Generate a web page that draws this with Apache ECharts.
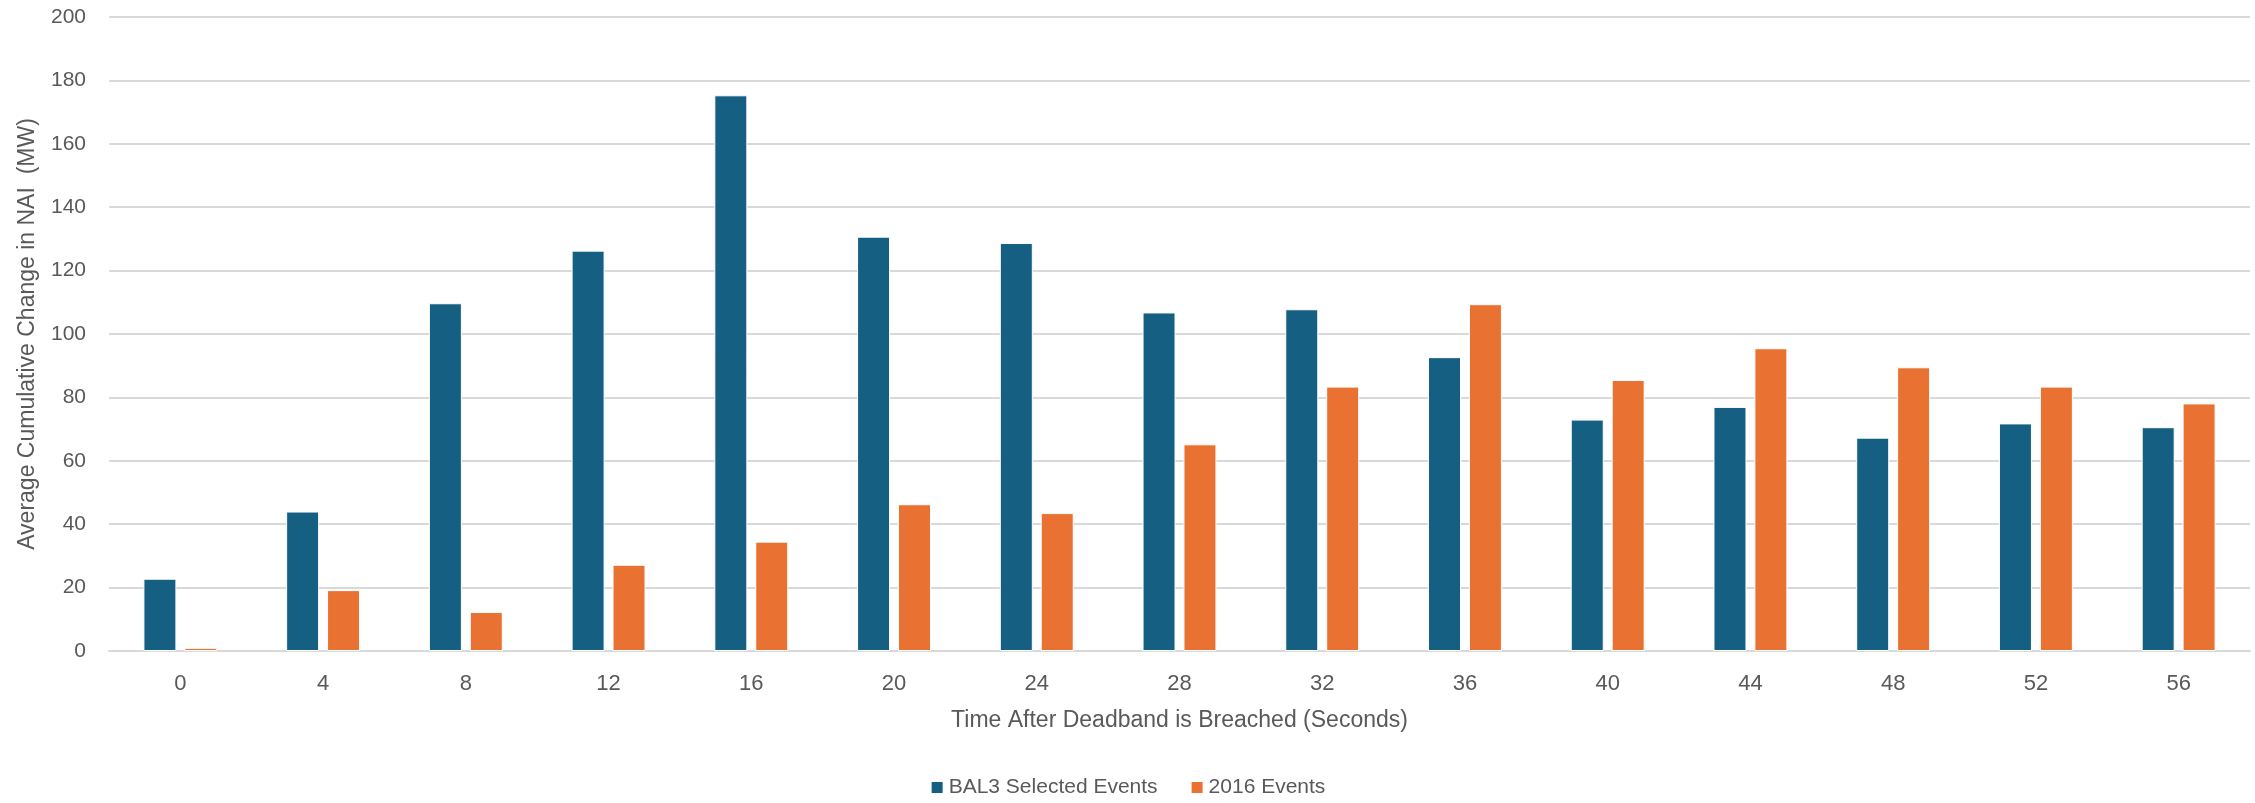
<!DOCTYPE html>
<html>
<head>
<meta charset="utf-8">
<script src="https://cdn.jsdelivr.net/npm/echarts@6/dist/echarts.min.js"></script>
<style>
html,body{margin:0;padding:0;background:#fff;}
#c{width:2255px;height:803px;}
</style>
</head>
<body>
<div id="c"></div>
<script>
const categories = ['0','4','8','12','16','20','24','28','32','36','40','44','48','52','56'];
const bal3Events = [22.8, 44, 109.7, 126.3, 175.3, 130.7, 128.7, 106.8, 107.8, 92.7, 73.0, 77.0, 67.3, 71.8, 70.6];
const events2016 = [1.0, 19.2, 12.3, 27.2, 34.5, 46.3, 43.5, 65.2, 83.4, 109.4, 85.5, 95.5, 89.5, 83.4, 78.1];
const yTicks = {min: 0, max: 200, interval: 20};

const chart = echarts.init(document.getElementById('c'), null, {renderer: 'canvas'});
const sans = '"Liberation Sans", Arial, sans-serif';
chart.setOption({
  animation: false,
  backgroundColor: '#ffffff',
  grid: {left: 109, right: 5, top: 17, bottom: 152, containLabel: false},
  legend: {
    data: ['BAL3 Selected Events', '2016 Events'],
    bottom: 0,
    left: 'center',
    itemWidth: 13, itemHeight: 13, itemGap: 32,
    icon: 'rect',
    textStyle: {fontFamily: sans, fontSize: 21, color: '#595959'}
  },
  xAxis: {
    type: 'category',
    data: categories,
    name: 'Time After Deadband is Breached (Seconds)',
    nameLocation: 'middle',
    nameGap: 58,
    nameTextStyle: {fontFamily: sans, fontSize: 23, color: '#595959'},
    axisLine: {show: true, lineStyle: {color: '#d9d9d9', width: 2}},
    axisTick: {show: false},
    axisLabel: {margin: 22, fontFamily: sans, fontSize: 22, color: '#595959'}
  },
  yAxis: {
    type: 'value',
    min: yTicks.min, max: yTicks.max, interval: yTicks.interval,
    name: 'Average Cumulative Change in NAI  (MW)',
    nameLocation: 'middle',
    nameGap: 70,
    nameTextStyle: {fontFamily: sans, fontSize: 23, color: '#595959'},
    axisLine: {show: false},
    axisTick: {show: false},
    axisLabel: {margin: 23, fontFamily: sans, fontSize: 21, color: '#595959'},
    splitLine: {lineStyle: {color: '#d9d9d9', width: 2}}
  },
  series: [
    {name: 'BAL3 Selected Events', type: 'bar', data: bal3Events, barWidth: 33, barGap: '24%',
     itemStyle: {color: '#156082', borderColor: '#ffffff', borderWidth: 1}},
    {name: '2016 Events', type: 'bar', data: events2016, barWidth: 33, barGap: '24%',
     itemStyle: {color: '#E97132', borderColor: '#ffffff', borderWidth: 1}}
  ]
});
</script>
</body>
</html>
